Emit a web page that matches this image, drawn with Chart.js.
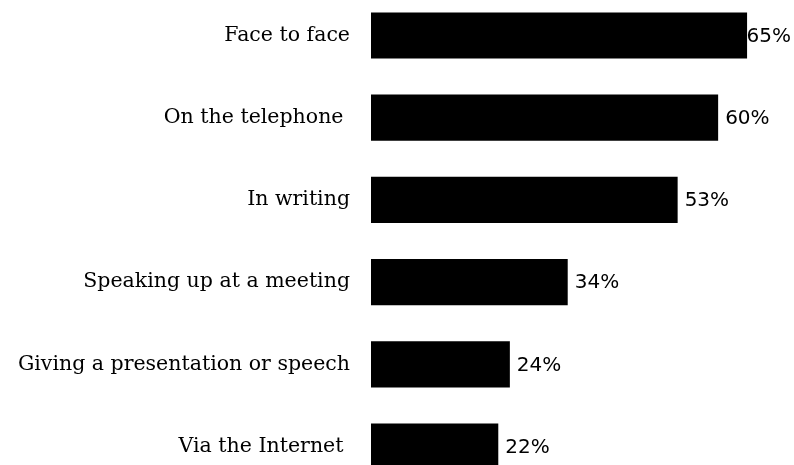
<!DOCTYPE html>
<html>
<head>
<meta charset="utf-8">
<script src="https://cdn.jsdelivr.net/npm/chart.js@4.4.1/dist/chart.umd.min.js"></script>
<style>
  html, body { margin: 0; padding: 0; background: #fff; overflow: hidden; }
  #chart { position: absolute; left: 0; top: -39px; }
</style>
</head>
<body>
<canvas id="chart" width="794" height="560"></canvas>
<script>
const categories = [
    'Face to face',
    'On the telephone ',
    'In writing',
    'Speaking up at a meeting',
    'Giving a presentation or speech',
    'Via the Internet '
];
const percents = [65, 60, 53, 34, 24, 22];

// writes "NN%" just past the end of each bar, kept inside the canvas
const valueLabels = {
    id: 'valueLabels',
    afterDatasetsDraw(chart) {
        const ctx = chart.ctx;
        const meta = chart.getDatasetMeta(0);
        ctx.save();
        ctx.fillStyle = '#000';
        ctx.font = '20px "DejaVu Sans"';
        ctx.textAlign = 'left';
        ctx.textBaseline = 'middle';
        meta.data.forEach((bar, i) => {
            const txt = percents[i] + '%';
            const w = ctx.measureText(txt).width;
            const x = Math.min(bar.x + 7, chart.width - w - 3);
            ctx.fillText(txt, x, bar.y + 1);
        });
        ctx.restore();
    }
};

const ctx = document.getElementById('chart').getContext('2d');
new Chart(ctx, {
    type: 'bar',
    data: {
        labels: categories,
        datasets: [{
            data: percents,
            backgroundColor: '#000',
            borderWidth: 0,
            barPercentage: 0.56,
            categoryPercentage: 1
        }]
    },
    options: {
        indexAxis: 'y',
        responsive: false,
        animation: false,
        layout: { padding: { top: 0, right: 18, bottom: 8, left: 0 } },
        plugins: {
            legend: { display: false },
            title: { display: false },
            tooltip: { enabled: false }
        },
        scales: {
            x: {
                display: false,
                min: 0,
                max: 70
            },
            y: {
                afterFit(scale) { scale.width = 371; },
                border: { display: false },
                grid: { display: false, drawTicks: false },
                ticks: {
                    padding: 21,
                    color: '#000',
                    font: { family: '"DejaVu Serif"', size: 20.5 }
                }
            }
        }
    },
    plugins: [valueLabels]
});
</script>
</body>
</html>
